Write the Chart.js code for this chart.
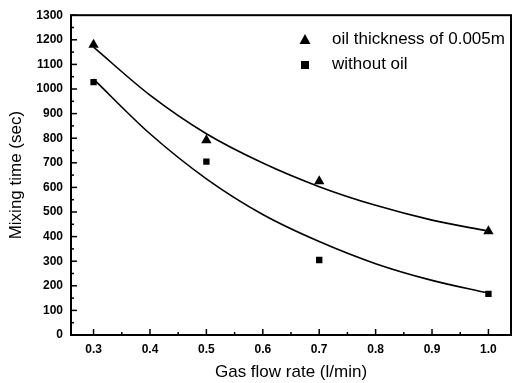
<!DOCTYPE html>
<html>
<head>
<meta charset="utf-8">
<script src="https://cdn.jsdelivr.net/npm/chart.js@4/dist/chart.umd.min.js"></script>
<style>
  html, body { margin: 0; padding: 0; background: #fff; }
  #wrap { position: relative; width: 517px; height: 383px; }
  .leg { position: absolute; font: 17px "Liberation Sans", Arial, sans-serif; color: #000; line-height: 20px; white-space: nowrap; }
</style>
</head>
<body>
<div id="wrap">
  <canvas id="chart" width="517" height="383"></canvas>
  <div class="leg" style="left:332px; top:29px;">oil thickness of 0.005m</div>
  <div class="leg" style="left:332px; top:54px;">without oil</div>
</div>
<script>
// valores
const gasFlow = [0.3, 0.5, 0.7, 1.0];
const comOleo = [1180, 792, 625, 422];
const semOleo = [1028, 705, 305, 167];

// curvas de ajuste (lidas ao longo das linhas)
const fitX = [0.3, 0.4, 0.5, 0.6, 0.7, 0.8, 0.9, 1.0];
const fitComOleo = [1170, 975, 818, 699, 603, 527, 467, 422];
const fitSemOleo = [1040, 818, 635, 490, 380, 290, 222, 170];

const xTicks = [0.3, 0.4, 0.5, 0.6, 0.7, 0.8, 0.9, 1.0];
const yTicks = [0, 100, 200, 300, 400, 500, 600, 700, 800, 900, 1000, 1100, 1200, 1300];

const pts = (xs, ys) => xs.map((x, i) => ({ x: x, y: ys[i] }));

// moldura e ticks para dentro
const frame = {
    id: 'frame',
    afterDraw(chart) {
        const { ctx, chartArea: a, scales } = chart;
        ctx.save();
        ctx.strokeStyle = '#000';
        ctx.lineWidth = 1.5;
        xTicks.forEach(v => {
            const px = scales.x.getPixelForValue(v);
            ctx.beginPath(); ctx.moveTo(px, a.bottom); ctx.lineTo(px, a.bottom - 6); ctx.stroke();
            const m = v + 0.05;
            if (m < scales.x.max) {
                const pm = scales.x.getPixelForValue(m);
                ctx.beginPath(); ctx.moveTo(pm, a.bottom); ctx.lineTo(pm, a.bottom - 3); ctx.stroke();
            }
        });
        yTicks.forEach(v => {
            const py = scales.y.getPixelForValue(v);
            ctx.beginPath(); ctx.moveTo(a.left, py); ctx.lineTo(a.left + 6, py); ctx.stroke();
            const m = v + 50;
            if (m < scales.y.max) {
                const pm = scales.y.getPixelForValue(m);
                ctx.beginPath(); ctx.moveTo(a.left, pm); ctx.lineTo(a.left + 3, pm); ctx.stroke();
            }
        });
        ctx.lineWidth = 2;
        ctx.strokeRect(a.left, a.top, a.right - a.left, a.bottom - a.top);
        // marcadores da legenda
        ctx.fillStyle = '#000';
        ctx.beginPath();
        ctx.moveTo(305, 34); ctx.lineTo(310.5, 44); ctx.lineTo(299.5, 44); ctx.closePath(); ctx.fill();
        ctx.fillRect(301, 61, 8, 8);
        ctx.restore();
    }
};

new Chart(document.getElementById('chart'), {
    type: 'scatter',
    data: {
        datasets: [
            {
                label: 'oil thickness of 0.005m',
                data: pts(gasFlow, comOleo),
                pointStyle: 'triangle',
                pointRadius: 6,
                backgroundColor: '#000',
                borderColor: '#000',
                borderWidth: 0
            },
            {
                label: 'without oil',
                data: pts(gasFlow, semOleo),
                pointStyle: 'rect',
                pointRadius: 4.5,
                backgroundColor: '#000',
                borderColor: '#000',
                borderWidth: 0
            },
            {
                label: 'fit1',
                data: pts(fitX, fitComOleo),
                showLine: true,
                pointRadius: 0,
                borderColor: '#000',
                borderWidth: 1.6,
                cubicInterpolationMode: 'monotone'
            },
            {
                label: 'fit2',
                data: pts(fitX, fitSemOleo),
                showLine: true,
                pointRadius: 0,
                borderColor: '#000',
                borderWidth: 1.6,
                cubicInterpolationMode: 'monotone'
            }
        ]
    },
    options: {
        responsive: false,
        animation: false,
        layout: { padding: { left: 0, right: 1, top: 15, bottom: 0 } },
        plugins: {
            legend: { display: false },
            tooltip: { enabled: false }
        },
        scales: {
            x: {
                type: 'linear',
                min: 0.26,
                max: 1.04,
                afterBuildTicks: s => { s.ticks = xTicks.map(v => ({ value: v })); },
                afterFit: s => { s.height = 48; },
                grid: { display: false, drawTicks: false },
                border: { display: false },
                ticks: {
                    padding: 7,
                    color: '#000',
                    font: { family: 'Liberation Sans', size: 12, weight: 'bold' },
                    callback: v => v.toFixed(1)
                },
                title: {
                    display: true,
                    text: 'Gas flow rate (l/min)',
                    color: '#000',
                    font: { family: 'Liberation Sans', size: 17 },
                    padding: { top: 0, bottom: 0 }
                }
            },
            y: {
                min: 0,
                max: 1300,
                afterBuildTicks: s => { s.ticks = yTicks.map(v => ({ value: v })); },
                afterFit: s => { s.width = 71; },
                grid: { display: false, drawTicks: false },
                border: { display: false },
                ticks: {
                    padding: 8,
                    color: '#000',
                    font: { family: 'Liberation Sans', size: 12, weight: 'bold' },
                    callback: v => String(v)
                },
                title: {
                    display: true,
                    text: 'Mixing time (sec)',
                    color: '#000',
                    font: { family: 'Liberation Sans', size: 17 },
                    padding: { top: 6, bottom: 0 }
                }
            }
        }
    },
    plugins: [frame]
});
</script>
</body>
</html>
